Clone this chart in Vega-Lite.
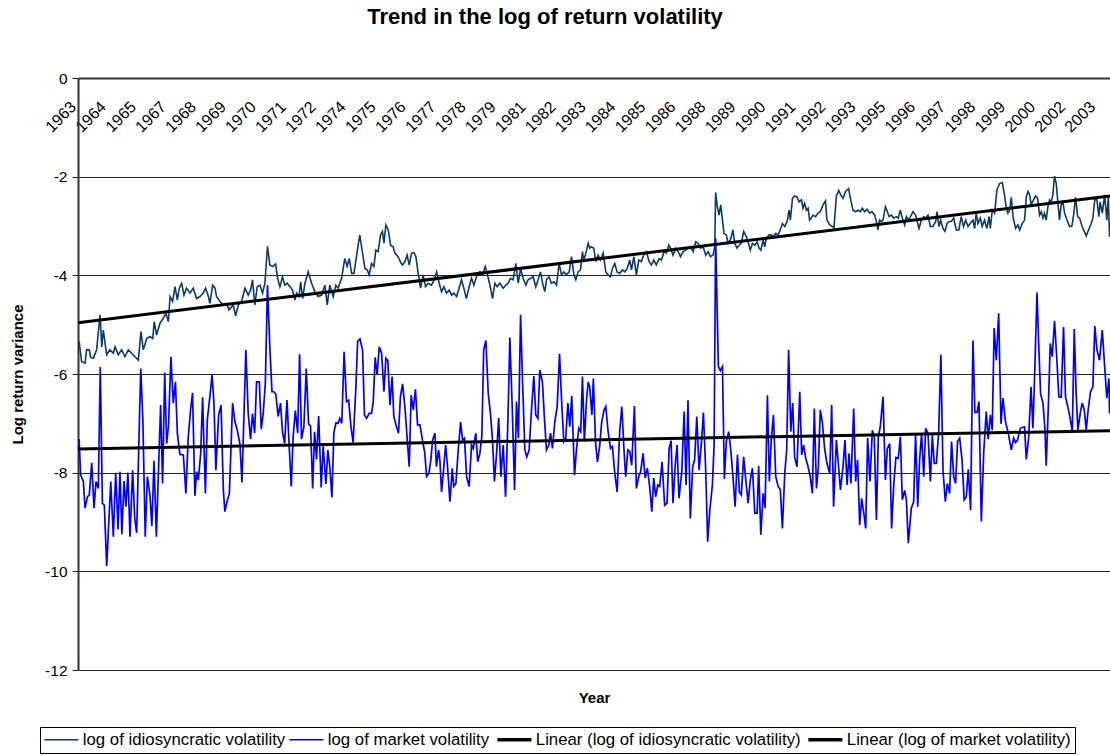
{
  "$schema": "https://vega.github.io/schema/vega-lite/v6.json",
  "width": 1032,
  "height": 592,
  "autosize": "none",
  "padding": {"left": 78, "top": 78, "right": 0, "bottom": 85},
  "background": "white",
  "config": {"font": "Liberation Sans", "view": {"stroke": null}},
  "title": {"text": "Trend in the log of return volatility", "fontSize": 22, "fontWeight": "bold", "font": "Liberation Sans", "color": "black", "anchor": "middle", "dx": -49, "offset": 42},
  "datasets": {
    "idio": [{"m":0,"v":-5.34},{"m":1.2,"v":-5.75},{"m":2.8,"v":-5.78},{"m":3.5,"v":-5.51},{"m":4.8,"v":-5.51},{"m":5.4,"v":-5.66},{"m":6.7,"v":-5.68},{"m":8.2,"v":-5.51},{"m":9.8,"v":-4.8},{"m":10.6,"v":-5.45},{"m":11.3,"v":-5.11},{"m":12.9,"v":-5.61},{"m":14.4,"v":-5.51},{"m":16,"v":-5.58},{"m":16.8,"v":-5.45},{"m":18.3,"v":-5.61},{"m":19.9,"v":-5.51},{"m":21.4,"v":-5.65},{"m":23,"v":-5.51},{"m":24.6,"v":-5.58},{"m":26.1,"v":-5.65},{"m":27.7,"v":-5.72},{"m":28.9,"v":-5.14},{"m":30,"v":-5.51},{"m":31.6,"v":-5.28},{"m":33.1,"v":-5.24},{"m":34.4,"v":-5.28},{"m":35.1,"v":-4.94},{"m":36.2,"v":-5.21},{"m":37.8,"v":-4.97},{"m":39.3,"v":-4.87},{"m":40.6,"v":-4.77},{"m":41.7,"v":-4.94},{"m":42.5,"v":-4.43},{"m":43.7,"v":-4.53},{"m":44.8,"v":-4.23},{"m":45.9,"v":-4.5},{"m":46.8,"v":-4.26},{"m":47.9,"v":-4.16},{"m":49,"v":-4.4},{"m":50.2,"v":-4.26},{"m":51.8,"v":-4.36},{"m":53.3,"v":-4.26},{"m":54.9,"v":-4.47},{"m":56.5,"v":-4.43},{"m":58,"v":-4.36},{"m":59.1,"v":-4.26},{"m":60.4,"v":-4.43},{"m":61.1,"v":-4.57},{"m":62.4,"v":-4.2},{"m":63.5,"v":-4.26},{"m":64.2,"v":-4.43},{"m":65.8,"v":-4.53},{"m":67.4,"v":-4.6},{"m":68.9,"v":-4.57},{"m":70,"v":-4.7},
      {"m":72,"v":-4.6},{"m":73.1,"v":-4.82},{"m":74.4,"v":-4.6},{"m":75.9,"v":-4.53},{"m":77.5,"v":-4.26},{"m":79,"v":-4.4},{"m":80.1,"v":-4.3},{"m":81,"v":-4.09},{"m":82.1,"v":-4.6},{"m":83.2,"v":-4.23},{"m":84.5,"v":-4.2},{"m":85.7,"v":-4.36},{"m":86.8,"v":-4.16},{"m":88,"v":-3.41},{"m":89.1,"v":-3.79},{"m":90.4,"v":-3.82},{"m":91.8,"v":-3.77},{"m":92.7,"v":-4.06},{"m":93.8,"v":-4.23},{"m":95,"v":-4.03},{"m":96.1,"v":-4.2},{"m":97.2,"v":-4.16},{"m":98.5,"v":-4.23},{"m":99.7,"v":-4.3},{"m":100.8,"v":-4.5},{"m":101.6,"v":-4.36},{"m":102.7,"v":-4.43},{"m":103.5,"v":-4.13},{"m":104.4,"v":-4.47},{"m":105.5,"v":-4.16},{"m":107,"v":-3.93},{"m":108.6,"v":-4.16},{"m":110.1,"v":-4.33},{"m":111.7,"v":-4.43},{"m":113.3,"v":-4.4},{"m":114.8,"v":-4.2},{"m":115.9,"v":-4.6},{"m":117.1,"v":-4.2},{"m":118.7,"v":-4.43},{"m":119.9,"v":-4.2},{"m":121,"v":-4.26},{"m":122.6,"v":-4.06},{"m":124.1,"v":-3.66},{"m":125.2,"v":-3.82},{"m":126.2,"v":-3.66},{"m":127.3,"v":-3.96},{"m":128.4,"v":-3.96},{"m":129.9,"v":-3.52},{"m":131.1,"v":-3.18},{"m":132.4,"v":-3.55},{"m":133.5,"v":-3.86},{"m":134.6,"v":-3.89},{"m":135.5,"v":-3.99},{"m":136.6,"v":-3.76},{"m":137.7,"v":-3.82},{"m":138.6,"v":-3.49},{"m":139.7,"v":-3.52},{"m":140.8,"v":-3.18},{"m":141.7,"v":-3.11},{"m":142.4,"v":-3.35},{"m":143.3,"v":-2.98},{"m":144.4,"v":-3.08},{"m":145.5,"v":-3.39},{"m":146.7,"v":-3.42},{"m":147.5,"v":-3.55},{"m":149,"v":-3.62},
      {"m":150.5,"v":-3.76},{"m":151.1,"v":-3.79},{"m":152.2,"v":-3.72},{"m":153.2,"v":-3.59},{"m":154.2,"v":-3.79},{"m":155.3,"v":-3.55},{"m":156.4,"v":-3.54},{"m":157.3,"v":-3.62},{"m":158.4,"v":-3.96},{"m":159.5,"v":-4.26},{"m":160.7,"v":-3.99},{"m":161.8,"v":-4.23},{"m":163.1,"v":-4.16},{"m":164.6,"v":-4.2},{"m":165.9,"v":-4.09},{"m":167,"v":-3.93},{"m":168.2,"v":-4.16},{"m":169.3,"v":-4.33},{"m":170.4,"v":-4.23},{"m":171.6,"v":-4.36},{"m":172.9,"v":-4.3},{"m":174,"v":-4.4},{"m":175,"v":-4.36},{"m":176.3,"v":-4.43},{"m":177.5,"v":-4.26},{"m":178.6,"v":-4.09},{"m":179.7,"v":-4.26},{"m":180.9,"v":-4.47},{"m":182.2,"v":-4.23},{"m":183.3,"v":-4.06},{"m":184.4,"v":-4.2},{"m":185.6,"v":-4.03},{"m":187.2,"v":-3.93},{"m":188.4,"v":-3.99},{"m":189.7,"v":-3.82},{"m":190.6,"v":-3.96},{"m":191.9,"v":-4.2},{"m":193.1,"v":-4.47},{"m":194.2,"v":-4.16},{"m":195.3,"v":-4.23},{"m":196.5,"v":-4.16},{"m":198.1,"v":-4.26},{"m":199.3,"v":-4.2},{"m":200.4,"v":-4.16},{"m":201.5,"v":-4.06},{"m":202.7,"v":-4.09},{"m":204,"v":-3.76},{"m":205.1,"v":-4.16},{"m":206.2,"v":-3.86},{"m":207.4,"v":-4.06},{"m":208.7,"v":-4.2},{"m":209.7,"v":-4.09},{"m":211,"v":-4.06},{"m":212.1,"v":-4.03},{"m":213.3,"v":-4.23},{"m":214.4,"v":-4.09},{"m":215.5,"v":-3.93},{"m":216.7,"v":-4.2},{"m":217.5,"v":-4.33},{"m":218.3,"v":-4.09},{"m":219.5,"v":-4.03},{"m":220.6,"v":-4.16},{"m":221.9,"v":-4.13},{"m":223,"v":-4.2},{"m":224.2,"v":-3.76},{"m":225.3,"v":-3.99},{"m":226.4,"v":-3.93},{"m":227.6,"v":-3.99},{"m":228.9,"v":-3.93},
      {"m":230,"v":-3.62},{"m":231.1,"v":-3.99},{"m":232,"v":-4.09},{"m":233.1,"v":-3.93},{"m":234.2,"v":-3.89},{"m":235.1,"v":-3.52},{"m":235.7,"v":-3.69},{"m":236.7,"v":-3.55},{"m":237.8,"v":-3.35},{"m":238.5,"v":-3.45},{"m":239.3,"v":-3.42},{"m":240.4,"v":-3.45},{"m":241.3,"v":-3.72},{"m":242.4,"v":-3.59},{"m":243.5,"v":-3.69},{"m":244.8,"v":-3.55},{"m":246,"v":-3.93},{"m":247.1,"v":-3.99},{"m":248.2,"v":-4.03},{"m":249.1,"v":-3.86},{"m":250.2,"v":-3.76},{"m":251.3,"v":-3.93},{"m":252.5,"v":-3.96},{"m":253.8,"v":-3.89},{"m":254.9,"v":-3.93},{"m":256,"v":-3.86},{"m":257.2,"v":-3.69},{"m":258,"v":-3.89},{"m":259.1,"v":-3.62},{"m":260.3,"v":-3.99},{"m":261.4,"v":-3.69},{"m":262.6,"v":-3.72},{"m":263.7,"v":-3.59},{"m":265,"v":-3.52},{"m":266.2,"v":-3.72},{"m":267.3,"v":-3.79},{"m":268.4,"v":-3.69},{"m":269.6,"v":-3.79},{"m":270.9,"v":-3.66},{"m":272,"v":-3.69},{"m":273.2,"v":-3.52},{"m":274.3,"v":-3.55},{"m":275.4,"v":-3.39},{"m":276.3,"v":-3.45},{"m":277.4,"v":-3.59},{"m":278.7,"v":-3.45},{"m":279.8,"v":-3.52},{"m":280.9,"v":-3.62},{"m":282.1,"v":-3.52},{"m":283.3,"v":-3.49},{"m":284.4,"v":-3.45},{"m":285.5,"v":-3.42},{"m":286.8,"v":-3.52},{"m":288,"v":-3.32},{"m":289.1,"v":-3.35},{"m":290.2,"v":-3.45},{"m":291.4,"v":-3.42},{"m":292.7,"v":-3.59},{"m":293.8,"v":-3.52},{"m":294.9,"v":-3.62},{"m":296.1,"v":-3.59},{"m":296.9,"v":-3.42},{"m":297.3,"v":-2.32},{"m":298.1,"v":-2.61},{"m":298.9,"v":-2.78},{"m":299.7,"v":-2.57},{"m":300.5,"v":-2.88},{"m":301.2,"v":-3.15},{"m":302.3,"v":-3.18},{"m":303.1,"v":-3.35},{"m":304.2,"v":-3.28},{"m":305.4,"v":-3.08},{"m":306.2,"v":-3.35},{"m":307.3,"v":-3.45},{"m":308.2,"v":-3.39},
      {"m":309.3,"v":-3.35},{"m":310.4,"v":-3.11},{"m":311.7,"v":-3.22},{"m":312.9,"v":-3.39},{"m":313.5,"v":-3.49},{"m":314.5,"v":-3.35},{"m":315.6,"v":-3.39},{"m":316.7,"v":-3.32},{"m":317.6,"v":-3.45},{"m":318.4,"v":-3.49},{"m":319.5,"v":-3.28},{"m":320.2,"v":-3.42},{"m":321,"v":-3.25},{"m":322.3,"v":-3.18},{"m":323.3,"v":-3.18},{"m":324.1,"v":-3.22},{"m":325.4,"v":-3.15},{"m":326.5,"v":-3.18},{"m":327.2,"v":-3.11},{"m":328.5,"v":-2.95},{"m":329.6,"v":-3.01},{"m":330.7,"v":-2.91},{"m":331.6,"v":-2.68},{"m":332.2,"v":-2.88},{"m":333.2,"v":-2.44},{"m":334.2,"v":-2.39},{"m":335.3,"v":-2.41},{"m":336.3,"v":-2.51},{"m":337.4,"v":-2.47},{"m":338.1,"v":-2.64},{"m":338.9,"v":-2.54},{"m":339.7,"v":-2.68},{"m":340.5,"v":-2.64},{"m":341.2,"v":-2.88},{"m":342,"v":-2.84},{"m":342.8,"v":-2.78},{"m":344,"v":-2.81},{"m":345.1,"v":-2.74},{"m":346.2,"v":-2.71},{"m":347.5,"v":-2.57},{"m":348.6,"v":-2.49},{"m":349.3,"v":-2.88},{"m":350.6,"v":-2.98},{"m":351.8,"v":-3.01},{"m":352.6,"v":-3.03},{"m":353.7,"v":-2.39},{"m":354.8,"v":-2.28},{"m":355.7,"v":-2.37},{"m":356.8,"v":-2.44},{"m":358,"v":-2.3},{"m":359.4,"v":-2.24},{"m":360.4,"v":-2.47},{"m":361.5,"v":-2.68},{"m":362.7,"v":-2.71},{"m":363.8,"v":-2.68},{"m":364.9,"v":-2.71},{"m":365.8,"v":-2.64},{"m":366.9,"v":-2.71},{"m":368,"v":-2.66},{"m":369.3,"v":-2.74},{"m":370.3,"v":-2.71},{"m":371.6,"v":-2.78},{"m":372.4,"v":-2.91},{"m":373.1,"v":-3.08},{"m":373.9,"v":-2.88},{"m":374.7,"v":-2.91},{"m":375.5,"v":-2.88},{"m":376.6,"v":-2.61},{"m":377.3,"v":-2.68},{"m":378.3,"v":-2.81},{"m":379.4,"v":-2.78},{"m":380.5,"v":-2.84},{"m":381.7,"v":-2.81},{"m":382.6,"v":-2.84},{"m":383.6,"v":-2.68},{"m":384.5,"v":-2.84},{"m":385.6,"v":-2.98},{"m":386.4,"v":-2.81},{"m":387.5,"v":-2.88},
      {"m":389.5,"v":-2.71},{"m":390.7,"v":-2.78},{"m":392.3,"v":-3.05},{"m":393.4,"v":-2.88},{"m":394.5,"v":-2.81},{"m":395.4,"v":-2.84},{"m":396.5,"v":-2.78},{"m":397.6,"v":-3.01},{"m":398.8,"v":-3.01},{"m":400.1,"v":-2.91},{"m":400.7,"v":-2.71},{"m":401.6,"v":-3.01},{"m":402.4,"v":-2.88},{"m":403.5,"v":-3.05},{"m":404.4,"v":-3.11},{"m":405.4,"v":-2.95},{"m":406.3,"v":-2.91},{"m":407.4,"v":-2.91},{"m":408.5,"v":-2.84},{"m":409.7,"v":-3.08},{"m":410.9,"v":-3.08},{"m":412,"v":-2.81},{"m":413.1,"v":-3.01},{"m":414.1,"v":-2.88},{"m":415.2,"v":-3.01},{"m":416.2,"v":-2.95},{"m":417.5,"v":-2.88},{"m":418.3,"v":-3.05},{"m":419,"v":-2.74},{"m":419.8,"v":-2.95},{"m":420.9,"v":-2.84},{"m":421.8,"v":-3.01},{"m":422.9,"v":-2.88},{"m":424,"v":-3.05},{"m":425,"v":-2.81},{"m":425.6,"v":-3.05},{"m":426.5,"v":-2.68},{"m":427.6,"v":-2.74},{"m":428.7,"v":-2.27},{"m":429.9,"v":-2.14},{"m":431.2,"v":-2.12},{"m":432.1,"v":-2.34},{"m":433,"v":-2.61},{"m":433.8,"v":-2.74},{"m":434.6,"v":-2.68},{"m":435.4,"v":-2.42},{"m":436.2,"v":-2.81},{"m":437.4,"v":-3.05},{"m":438.5,"v":-2.98},{"m":439.3,"v":-3.08},{"m":440.5,"v":-2.95},{"m":441.6,"v":-2.88},{"m":442.4,"v":-2.41},{"m":443.2,"v":-2.3},{"m":444,"v":-2.37},{"m":444.7,"v":-2.57},{"m":445.8,"v":-2.47},{"m":446.7,"v":-2.39},{"m":447.7,"v":-2.44},{"m":448.6,"v":-2.78},{"m":449.4,"v":-2.71},{"m":450.2,"v":-2.84},{"m":450.9,"v":-2.74},{"m":451.7,"v":-2.88},{"m":452.5,"v":-2.61},{"m":453.3,"v":-2.47},{"m":454.1,"v":-2.51},{"m":454.8,"v":-2.37},{"m":455.6,"v":-1.99},{"m":456.4,"v":-2.14},{"m":457.2,"v":-2.54},{"m":457.9,"v":-2.88},{"m":458.7,"v":-2.57},{"m":459.5,"v":-2.51},{"m":460.3,"v":-2.74},{"m":461.4,"v":-2.88},{"m":462.6,"v":-3.01},{"m":463.7,"v":-3.0},{"m":464.5,"v":-2.78},{"m":465.4,"v":-2.42},{"m":466.4,"v":-2.81},{"m":467.3,"v":-2.84},{"m":468.5,"v":-3.01},{"m":469.5,"v":-3.11},{"m":470.4,"v":-3.2},{"m":471.5,"v":-3.08},{"m":472.7,"v":-2.95},{"m":473.5,"v":-2.84},{"m":474.4,"v":-2.46},{"m":475.4,"v":-2.47},{"m":476.3,"v":-2.81},{"m":476.9,"v":-2.51},{"m":477.9,"v":-2.74},{"m":479,"v":-2.37},{"m":480,"v":-2.88},{"m":480.7,"v":-2.41},{"m":481.3,"v":-3.22}],
    "mkt": [{"m":0,"v":-7.32},{"m":0.75,"v":-8.05},{"m":2,"v":-8.18},{"m":2.8,"v":-8.72},{"m":3.9,"v":-8.49},{"m":4.8,"v":-8.45},{"m":5.9,"v":-7.8},{"m":7,"v":-8.72},{"m":7.9,"v":-8.18},{"m":9,"v":-8.32},{"m":9.9,"v":-5.86},{"m":10.9,"v":-8.62},{"m":11.8,"v":-8.66},{"m":12.9,"v":-9.89},{"m":14.8,"v":-8.18},{"m":16,"v":-9.3},{"m":17.1,"v":-8.0},{"m":18.2,"v":-9.15},{"m":19.1,"v":-7.98},{"m":20,"v":-9.25},{"m":21,"v":-8.17},{"m":21.9,"v":-8.69},{"m":22.8,"v":-8.0},{"m":23.8,"v":-9.3},{"m":25,"v":-7.95},{"m":26,"v":-8.93},{"m":26.9,"v":-9.22},{"m":28.8,"v":-5.89},{"m":29.8,"v":-6.93},{"m":30.9,"v":-9.3},{"m":31.9,"v":-8.08},{"m":33.1,"v":-8.45},{"m":34,"v":-9.08},{"m":35,"v":-7.76},{"m":36.1,"v":-9.3},{"m":37.2,"v":-7.81},{"m":38.1,"v":-6.63},{"m":39,"v":-8.22},{"m":40,"v":-5.97},{"m":40.9,"v":-7.41},{"m":41.8,"v":-7.03},{"m":42.9,"v":-5.65},{"m":44,"v":-6.59},{"m":45,"v":-6.16},{"m":45.9,"v":-7.2},{"m":47.1,"v":-7.63},{"m":48.7,"v":-7.64},{"m":49.9,"v":-8.42},{"m":51,"v":-7.27},{"m":52.1,"v":-6.72},{"m":53,"v":-6.38},{"m":54.1,"v":-8.47},{"m":54.9,"v":-7.98},{"m":55.7,"v":-8.15},{"m":56.8,"v":-7.61},{"m":57.7,"v":-6.47},{"m":59,"v":-8.42},{"m":59.9,"v":-6.93},{"m":61.1,"v":-6.46},{"m":62.1,"v":-6.02},{"m":63,"v":-6.59},{"m":63.9,"v":-7.95},{"m":65.2,"v":-6.83},{"m":66.3,"v":-6.63},{"m":67.4,"v":-8.35},{"m":68.1,"v":-8.79},{"m":68.9,"v":-8.62},{"m":70.2,"v":-8.42},
      {"m":71.7,"v":-6.59},{"m":72.8,"v":-6.97},{"m":73.9,"v":-7.14},{"m":75.1,"v":-7.41},{"m":76.1,"v":-8.2},{"m":77,"v":-6.86},{"m":77.9,"v":-5.51},{"m":79,"v":-6.8},{"m":80.1,"v":-7.32},{"m":81,"v":-6.8},{"m":82,"v":-7.2},{"m":82.9,"v":-6.16},{"m":84.2,"v":-6.16},{"m":85.1,"v":-7.12},{"m":86,"v":-6.8},{"m":87,"v":-6.19},{"m":88,"v":-4.2},{"m":89.1,"v":-5.45},{"m":90.1,"v":-6.36},{"m":91,"v":-6.36},{"m":91.9,"v":-6.41},{"m":93,"v":-6.86},{"m":94.1,"v":-6.59},{"m":95,"v":-7.17},{"m":96,"v":-7.41},{"m":97.1,"v":-6.53},{"m":98.2,"v":-7.51},{"m":99.1,"v":-8.28},{"m":100,"v":-7.27},{"m":101,"v":-6.74},{"m":102.1,"v":-7.2},{"m":103,"v":-5.6},{"m":103.9,"v":-7.32},{"m":105,"v":-7.07},{"m":106.1,"v":-5.89},{"m":107.2,"v":-7.01},{"m":108.1,"v":-7.05},{"m":109.1,"v":-8.32},{"m":110,"v":-7.17},{"m":110.9,"v":-7.73},{"m":111.9,"v":-6.85},{"m":113.1,"v":-8.3},{"m":114,"v":-7.46},{"m":115.3,"v":-8.23},{"m":116.2,"v":-7.54},{"m":117.1,"v":-7.88},{"m":118.1,"v":-8.5},{"m":119,"v":-7.19},{"m":120,"v":-6.99},{"m":121,"v":-7.0},{"m":121.8,"v":-6.9},{"m":122.7,"v":-7.0},{"m":123.8,"v":-5.55},{"m":124.9,"v":-6.56},{"m":125.9,"v":-6.53},{"m":127,"v":-7.07},{"m":128,"v":-7.39},{"m":129.3,"v":-6.26},{"m":130.1,"v":-5.34},{"m":131.2,"v":-5.29},{"m":132.4,"v":-5.51},{"m":133.3,"v":-6.83},{"m":134.3,"v":-6.9},{"m":135.5,"v":-6.8},{"m":136.6,"v":-6.8},{"m":137.4,"v":-6.56},{"m":138.3,"v":-5.66},{"m":139.2,"v":-6.02},{"m":140.2,"v":-5.45},{"m":141.3,"v":-5.58},{"m":142.4,"v":-6.36},{"m":143.3,"v":-5.68},{"m":144.2,"v":-5.73},{"m":145.2,"v":-6.63},{"m":146.2,"v":-6.05},{"m":147,"v":-6.86},{"m":148,"v":-7.03},{"m":149.2,"v":-7.2},{"m":150.1,"v":-6.46},{"m":151.1,"v":-6.2},{"m":152.2,"v":-6.68},{"m":153.3,"v":-7.34},{"m":154.2,"v":-7.88},
      {"m":155.1,"v":-6.43},{"m":156.1,"v":-6.73},{"m":157.1,"v":-6.31},{"m":158.1,"v":-7.03},{"m":159.2,"v":-7.03},{"m":160.4,"v":-7.34},{"m":161.5,"v":-7.61},{"m":162.3,"v":-8.08},{"m":163.4,"v":-8.01},{"m":164.3,"v":-7.74},{"m":165.1,"v":-7.34},{"m":166.2,"v":-7.2},{"m":166.9,"v":-7.88},{"m":167.9,"v":-7.54},{"m":168.5,"v":-7.74},{"m":169.3,"v":-8.39},{"m":170.1,"v":-8.01},{"m":171.2,"v":-7.44},{"m":172.1,"v":-7.88},{"m":173.2,"v":-8.59},{"m":174.3,"v":-7.91},{"m":175,"v":-8.28},{"m":176,"v":-8.22},{"m":177.1,"v":-7.54},{"m":178.2,"v":-6.97},{"m":179.1,"v":-7.34},{"m":180,"v":-7.3},{"m":181,"v":-8.08},{"m":182.2,"v":-8.28},{"m":183.3,"v":-7.44},{"m":184.1,"v":-7.51},{"m":185.3,"v":-7.2},{"m":186.2,"v":-7.78},{"m":187.2,"v":-7.61},{"m":188.1,"v":-7.27},{"m":189,"v":-5.51},{"m":190,"v":-5.32},{"m":191.1,"v":-6.39},{"m":192.2,"v":-6.83},{"m":193.1,"v":-7.34},{"m":194,"v":-8.18},{"m":195,"v":-7.61},{"m":196,"v":-6.89},{"m":197,"v":-8.08},{"m":198.1,"v":-7.44},{"m":199.2,"v":-8.49},{"m":200.3,"v":-6.93},{"m":201.2,"v":-5.26},{"m":202.3,"v":-6.66},{"m":203.4,"v":-8.35},{"m":204.3,"v":-6.56},{"m":205.2,"v":-7.3},{"m":206.2,"v":-4.8},{"m":207.1,"v":-6.12},{"m":208.2,"v":-7.54},{"m":209.1,"v":-7.68},{"m":210.2,"v":-7.54},{"m":211.3,"v":-6.73},{"m":212.4,"v":-6.04},{"m":213.3,"v":-6.83},{"m":214.3,"v":-6.9},{"m":215.2,"v":-5.92},{"m":216.4,"v":-6.16},{"m":217.4,"v":-6.93},{"m":218.3,"v":-7.54},{"m":219.4,"v":-7.44},{"m":220.2,"v":-7.2},{"m":221.1,"v":-7.51},{"m":222.2,"v":-6.97},{"m":223.3,"v":-6.66},{"m":224.4,"v":-5.59},{"m":225.5,"v":-6.66},{"m":226.4,"v":-7.37},{"m":227.3,"v":-7.3},{"m":228.3,"v":-6.59},{"m":229.2,"v":-7.07},{"m":230.1,"v":-6.44},{"m":231.4,"v":-8.05},{"m":232.3,"v":-7.54},{"m":233.4,"v":-7.1},
      {"m":234.3,"v":-7.17},{"m":235.1,"v":-6.05},{"m":236,"v":-7.37},{"m":237,"v":-6.53},{"m":237.8,"v":-6.16},{"m":238.5,"v":-6.26},{"m":239.5,"v":-6.83},{"m":240.2,"v":-6.09},{"m":241.2,"v":-7.37},{"m":242.1,"v":-7.78},{"m":243.2,"v":-7.44},{"m":244.1,"v":-6.97},{"m":245.2,"v":-6.73},{"m":246,"v":-6.66},{"m":247.1,"v":-7.17},{"m":248.2,"v":-7.51},{"m":249.1,"v":-7.47},{"m":250.2,"v":-8.01},{"m":251.3,"v":-8.39},{"m":252.5,"v":-7.17},{"m":253.5,"v":-6.66},{"m":254.6,"v":-7.61},{"m":255.3,"v":-8.08},{"m":256.3,"v":-7.54},{"m":257.2,"v":-7.57},{"m":258.1,"v":-7.85},{"m":259.4,"v":-6.65},{"m":260.3,"v":-8.32},{"m":261.4,"v":-8.08},{"m":262.3,"v":-7.98},{"m":263.4,"v":-7.61},{"m":264.4,"v":-8.11},{"m":265.4,"v":-7.91},{"m":266.5,"v":-8.28},{"m":267.5,"v":-8.79},{"m":268.4,"v":-8.11},{"m":269.3,"v":-8.49},{"m":270.3,"v":-8.25},{"m":271.2,"v":-8.28},{"m":272.3,"v":-7.78},{"m":273.5,"v":-8.66},{"m":274.6,"v":-8.62},{"m":275.6,"v":-7.51},{"m":276.5,"v":-7.35},{"m":277.4,"v":-8.62},{"m":278.4,"v":-7.88},{"m":279.3,"v":-7.44},{"m":280.2,"v":-8.52},{"m":281.5,"v":-7.98},{"m":282.6,"v":-6.76},{"m":283.5,"v":-8.25},{"m":284.4,"v":-6.53},{"m":285.5,"v":-8.93},{"m":286.6,"v":-7.88},{"m":287.5,"v":-7.74},{"m":288.5,"v":-6.86},{"m":289.6,"v":-7.95},{"m":290.7,"v":-7.37},{"m":291.6,"v":-6.78},{"m":292.7,"v":-7.98},{"m":293.6,"v":-9.4},{"m":294.6,"v":-8.76},{"m":295.8,"v":-8.25},{"m":296.6,"v":-7.44},{"m":297.3,"v":-3.25},{"m":298.6,"v":-5.85},{"m":299.5,"v":-5.93},{"m":300.5,"v":-5.85},{"m":301.4,"v":-8.13},{"m":302.3,"v":-7.37},{"m":303.4,"v":-7.17},{"m":304.4,"v":-7.54},{"m":305.4,"v":-8.08},{"m":306.4,"v":-8.69},{"m":307.5,"v":-7.64},{"m":308.4,"v":-8.39},
      {"m":309.3,"v":-8.45},{"m":310.4,"v":-7.68},{"m":311.4,"v":-8.15},{"m":312.5,"v":-8.62},{"m":313.5,"v":-8.15},{"m":314.5,"v":-7.91},{"m":315.6,"v":-8.82},{"m":316.7,"v":-8.82},{"m":317.4,"v":-7.86},{"m":318.4,"v":-9.26},{"m":319.5,"v":-8.42},{"m":320.4,"v":-8.72},{"m":321.5,"v":-6.43},{"m":322.4,"v":-8.18},{"m":323.3,"v":-7.34},{"m":324.3,"v":-6.83},{"m":325.4,"v":-8.08},{"m":326.5,"v":-8.28},{"m":327.5,"v":-8.34},{"m":328.5,"v":-9.13},{"m":329.6,"v":-8.01},{"m":330.5,"v":-7.54},{"m":331.4,"v":-5.51},{"m":332.4,"v":-7.17},{"m":333.3,"v":-6.59},{"m":334.2,"v":-7.68},{"m":335.3,"v":-7.88},{"m":336.6,"v":-6.36},{"m":337.5,"v":-7.64},{"m":338.4,"v":-7.44},{"m":339.4,"v":-7.71},{"m":340.5,"v":-7.88},{"m":341.5,"v":-8.08},{"m":342.5,"v":-8.42},{"m":343.4,"v":-6.7},{"m":344.4,"v":-8.32},{"m":345.3,"v":-7.88},{"m":346.2,"v":-6.73},{"m":347.2,"v":-7.0},{"m":348.2,"v":-7.51},{"m":349.3,"v":-7.81},{"m":350.6,"v":-8.01},{"m":351.5,"v":-6.63},{"m":352.4,"v":-8.69},{"m":353.7,"v":-7.34},{"m":354.6,"v":-7.81},{"m":355.6,"v":-8.35},{"m":356.8,"v":-7.88},{"m":357.7,"v":-7.34},{"m":358.7,"v":-8.25},{"m":359.6,"v":-7.61},{"m":360.5,"v":-8.22},{"m":361.8,"v":-6.7},{"m":362.7,"v":-8.18},{"m":363.6,"v":-7.74},{"m":364.6,"v":-9.06},{"m":365.5,"v":-8.52},{"m":366.5,"v":-8.82},{"m":367.4,"v":-9.13},{"m":368.3,"v":-7.3},{"m":369.4,"v":-8.18},{"m":370.5,"v":-7.14},{"m":371.4,"v":-7.27},{"m":372.4,"v":-8.96},{"m":373.3,"v":-7.27},{"m":374.2,"v":-7.07},{"m":375.5,"v":-6.46},{"m":376.6,"v":-8.15},{"m":377.5,"v":-7.51},{"m":378.6,"v":-7.41},{"m":379.5,"v":-9.13},{"m":380.5,"v":-8.25},{"m":381.5,"v":-7.69},{"m":382.6,"v":-7.71},{"m":383.6,"v":-7.27},{"m":384.5,"v":-8.55},{"m":385.6,"v":-8.36},{"m":386.4,"v":-8.55},{"m":387.3,"v":-9.43},
      {"m":388.7,"v":-8.72},{"m":389.8,"v":-8.59},{"m":390.7,"v":-7.2},{"m":391.7,"v":-8.69},{"m":392.6,"v":-7.74},{"m":393.5,"v":-7.2},{"m":394.5,"v":-8.08},{"m":395.4,"v":-7.1},{"m":396.5,"v":-7.2},{"m":397.6,"v":-8.18},{"m":398.5,"v":-7.24},{"m":399.4,"v":-7.81},{"m":400.4,"v":-7.81},{"m":401.5,"v":-7.17},{"m":402.5,"v":-5.61},{"m":403.5,"v":-7.95},{"m":404.6,"v":-8.59},{"m":405.5,"v":-8.22},{"m":406.6,"v":-8.42},{"m":407.5,"v":-7.37},{"m":408.5,"v":-8.08},{"m":409.4,"v":-8.22},{"m":410.3,"v":-7.37},{"m":411.3,"v":-7.3},{"m":412.4,"v":-7.74},{"m":413.4,"v":-8.55},{"m":414.4,"v":-8.49},{"m":415.3,"v":-7.93},{"m":416.4,"v":-8.76},{"m":417.5,"v":-5.32},{"m":418.4,"v":-6.78},{"m":419.4,"v":-6.78},{"m":420.3,"v":-6.56},{"m":421.4,"v":-8.99},{"m":422.5,"v":-7.61},{"m":423.7,"v":-6.76},{"m":424.6,"v":-7.32},{"m":425.6,"v":-6.83},{"m":426.5,"v":-7.14},{"m":427.4,"v":-5.07},{"m":428.4,"v":-5.72},{"m":429.5,"v":-4.77},{"m":430.6,"v":-7.01},{"m":431.5,"v":-6.49},{"m":432.7,"v":-6.97},{"m":434,"v":-7.2},{"m":435.4,"v":-7.54},{"m":436.5,"v":-7.3},{"m":437.4,"v":-7.39},{"m":438.3,"v":-7.34},{"m":439.6,"v":-7.1},{"m":440.8,"v":-7.08},{"m":441.6,"v":-7.07},{"m":442.4,"v":-7.73},{"m":443.5,"v":-7.3},{"m":444.6,"v":-6.26},{"m":445.5,"v":-7.1},{"m":446.4,"v":-5.89},{"m":447.4,"v":-4.35},{"m":448.3,"v":-5.51},{"m":449.1,"v":-6.41},{"m":450.2,"v":-6.59},{"m":451.1,"v":-7.1},{"m":451.7,"v":-7.86},{"m":452.7,"v":-6.66},{"m":453.6,"v":-5.38},{"m":454.5,"v":-5.65},{"m":455.6,"v":-4.92},{"m":456.7,"v":-5.72},{"m":457.6,"v":-6.46},{"m":458.7,"v":-6.47},{"m":459.8,"v":-5.05},{"m":460.7,"v":-6.46},{"m":461.8,"v":-6.66},{"m":462.9,"v":-6.9},{"m":463.9,"v":-7.17},{"m":464.8,"v":-5.09},{"m":465.7,"v":-6.39},{"m":466.5,"v":-7.14},{"m":467.6,"v":-6.8},{"m":468.5,"v":-6.59},{"m":469.5,"v":-6.73},{"m":470.4,"v":-7.14},{"m":471.3,"v":-6.73},{"m":472.4,"v":-6.36},{"m":473.5,"v":-6.26},{"m":474.4,"v":-5.03},{"m":475.4,"v":-5.51},{"m":476.6,"v":-5.72},{"m":477.9,"v":-5.11},{"m":478.9,"v":-5.78},{"m":480,"v":-6.49},{"m":481,"v":-6.09},{"m":481.3,"v":-6.8}],
    "tidio": [{"m":-0.5,"v":-4.96},{"m":481.5,"v":-2.39}],
    "tmkt": [{"m":-0.5,"v":-7.52},{"m":481.5,"v":-7.15}]
  },
  "encoding": {
    "x": {"field": "m", "type": "quantitative",
      "scale": {"domain": [-0.5, 481.5], "nice": false, "zero": false},
      "axis": {"orient": "bottom", "offset": -592, "values": [0,14,28,42,56,70,84,98,112,126,140,154,168,182,196,210,224,238,252,266,280,294,308,322,336,350,364,378,392,406,420,434,448,462,476],
        "labelExpr": "'' + (floor((datum.value + 6) / 12) + 1963)",
        "labelAngle": -45, "labelAlign": "right", "labelBaseline": "middle", "labelPadding": 26, "labelOffset": -6,
        "labelFontSize": 16, "labelColor": "black", "labelFont": "Liberation Sans", "labelOverlap": false, "labelFlush": false, "labelBound": false,
        "ticks": false, "grid": false, "domain": true, "domainColor": "#333333", "domainWidth": 2,
        "title": "Year", "titleX": 516, "titleY": 619, "titleAlign": "center", "titleBaseline": "middle",
        "titleFontSize": 15, "titleFontWeight": "bold", "titleColor": "black", "titleFont": "Liberation Sans"}},
    "y": {"field": "v", "type": "quantitative",
      "scale": {"domain": [-12, 0], "nice": false, "zero": false},
      "axis": {"values": [-12,-10,-8,-6,-4,-2,0], "labelExpr": "'' + datum.value",
        "grid": true, "gridColor": "#222222", "gridWidth": 1,
        "domain": true, "domainColor": "#333333", "domainWidth": 2,
        "ticks": true, "tickColor": "#222222", "tickSize": 6, "labelPadding": 5,
        "labelFontSize": 15.5, "labelColor": "black", "labelFont": "Liberation Sans",
        "title": "Log return variance", "titleX": -61, "titleY": 296, "titleAngle": -90, "titleAlign": "center", "titleBaseline": "middle",
        "titleFontSize": 15, "titleFontWeight": "bold", "titleColor": "black", "titleFont": "Liberation Sans"}}
  },
  "layer": [
    {"data": {"name": "idio"}, "mark": {"type": "line", "strokeWidth": 1.6, "interpolate": "linear"},
      "encoding": {"color": {"datum": "log of idiosyncratic volatility", "type": "nominal",
        "scale": {"domain": ["log of idiosyncratic volatility", "log of market volatility", "Linear (log of idiosyncratic volatility)", "Linear (log of market volatility)"], "range": ["#0A3A6A", "#0000FF", "#000000", "#000000"]},
        "legend": {"title": null, "orient": "none", "legendX": -38, "legendY": 649, "direction": "horizontal",
          "symbolType": "stroke", "symbolSize": 1156, "symbolOffset": 9, "labelFontSize": 16.8, "labelFont": "Liberation Sans", "labelColor": "black",
          "labelLimit": 600, "labelOffset": 13, "columnPadding": 0, "padding": 4, "strokeColor": "black", "fillColor": "white",
          "encode": {"symbols": {"update": {"strokeWidth": {"signal": "test(/^Linear/, '' + datum.value) ? 3.5 : 1.6"}}}}}}}},
    {"data": {"name": "mkt"}, "mark": {"type": "line", "strokeWidth": 1.7},
      "encoding": {"color": {"datum": "log of market volatility", "type": "nominal"}}},
    {"data": {"name": "tidio"}, "mark": {"type": "line", "strokeWidth": 3},
      "encoding": {"color": {"datum": "Linear (log of idiosyncratic volatility)", "type": "nominal"}}},
    {"data": {"name": "tmkt"}, "mark": {"type": "line", "strokeWidth": 3},
      "encoding": {"color": {"datum": "Linear (log of market volatility)", "type": "nominal"}}}
  ]
}
